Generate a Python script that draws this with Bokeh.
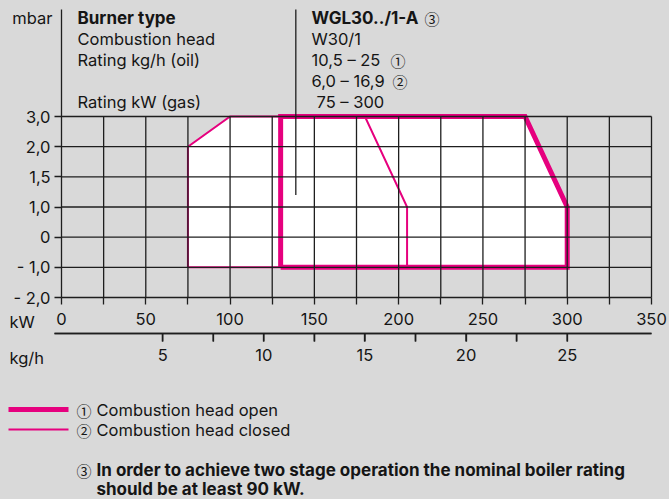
import numpy as np
from bokeh.plotting import figure
from bokeh.models import Range1d, LinearAxis, FixedTicker
from bokeh.embed import file_html
from bokeh.resources import INLINE
from bokeh.core.properties import value

# ---------------- data ----------------
y_tick_mbar = [-2.0, -1.0, 0.0, 1.0, 1.5, 2.0, 3.0]
y_tick_labels = ["- 2,0", "- 1,0", "0", "1,0", "1,5", "2,0", "3,0"]
kw_ticks = [0, 50, 100, 150, 200, 250, 300, 350]
kw_minor_ticks = [25, 75, 125, 175, 225, 275, 325]
kgh_ticks = [5, 10, 15, 20, 25]
kgh_labels = ["5", "10", "15", "20", "25"]
kgh_minor_ticks = [7.5, 12.5, 17.5, 22.5]
kw_per_kgh = 12.0

# combustion head open (thick)
open_kw = [130, 130, 275, 300, 300, 130]
open_mbar = [-1.0, 3.0, 3.0, 1.0, -1.0, -1.0]
# combustion head closed (thin)
closed_kw = [75, 75, 100, 180, 205, 205, 75]
closed_mbar = [-1.0, 2.0, 3.0, 3.0, 1.0, -1.0, -1.0]

divider_kw = 139
divider_mbar = 1.2

header_left = ["Burner type", "Combustion head", "Rating kg/h (oil)", "", "Rating kW (gas)"]
header_right = ["WGL30../1-A", "W30/1", "10,5 \u2013 25", "6,0 \u2013 16,9", "75 \u2013 300"]
header_marks = ["\u2462", "", "\u2460", "\u2461", ""]
legend_marks = ["\u2460", "\u2461"]
legend_labels = ["Combustion head open", "Combustion head closed"]
note_mark = "\u2462"
note_lines = ["In order to achieve two stage operation the nominal boiler rating",
              "should be at least 90 kW."]

# ---------------- style / layout ----------------
BG = "#d9d9d9"
PINK = "#e6007e"
INK = "#151515"
GRIDC = "#1e1e1e"
FONT = "Inter"
FS = "16.5px"
FSB = "17px"
MARK_FONT = "Noto Sans CJK JP"
MARK_FS = "15px"

W, H = 669, 499
FR_L, FR_R = 61, 651          # x pixels of 0 and 350 kW
Y0_PX = 297                   # y pixel of the bottom tick (-2,0)
PX_PER_IDX = (297 - 116) / 6.0
KAX_Y = 333


def to_idx(m):
    return np.interp(m, y_tick_mbar, np.arange(len(y_tick_mbar)))


def kx(px):
    return (px - FR_L) / ((FR_R - FR_L) / 350.0)


def iy(py):
    return (Y0_PX - py) / PX_PER_IDX


p = figure(width=W, height=H, output_backend="svg", toolbar_location=None,
           x_range=Range1d(kx(0), kx(W)), y_range=Range1d(iy(H), iy(0)),
           min_border=0, background_fill_color=BG, border_fill_color=BG,
           outline_line_color=None, x_axis_type=None, y_axis_type=None)

n_y = len(y_tick_mbar)
yax = LinearAxis(ticker=FixedTicker(ticks=list(range(n_y))),
                 major_label_overrides={i: s for i, s in enumerate(y_tick_labels)},
                 fixed_location=0, bounds=(0, iy(9)))
xax = LinearAxis(ticker=FixedTicker(ticks=kw_ticks, minor_ticks=kw_minor_ticks),
                 fixed_location=0, bounds=(0, 350))
kgh_pos = [k * kw_per_kgh for k in kgh_ticks]
kgh_minor_pos = [k * kw_per_kgh for k in kgh_minor_ticks]
kax = LinearAxis(ticker=FixedTicker(ticks=kgh_pos, minor_ticks=kgh_minor_pos),
                 major_label_overrides={pos: s for pos, s in zip(kgh_pos, kgh_labels)},
                 fixed_location=iy(KAX_Y), bounds=(kx(54), 350))

for ax in (yax, xax, kax):
    ax.axis_line_color = GRIDC
    ax.axis_line_width = 1.3
    ax.major_tick_line_color = GRIDC
    ax.minor_tick_line_color = GRIDC
    ax.major_tick_line_width = 1.3
    ax.minor_tick_line_width = 1.3
    ax.major_tick_in = 0
    ax.minor_tick_in = 0
    ax.major_label_text_font = FONT
    ax.major_label_text_font_size = FS
    ax.major_label_text_color = INK
yax.major_tick_out = 7
yax.major_label_standoff = 4
xax.major_tick_out = 7
xax.minor_tick_out = 7
xax.major_label_standoff = 8
kax.major_tick_out = 8
kax.minor_tick_out = 8
kax.major_label_standoff = 7

p.add_layout(yax, "left")
p.add_layout(xax, "below")
p.add_layout(kax, "below")

# white operating areas
p.patch(closed_kw, to_idx(closed_mbar), fill_color="white", line_color=None)
p.patch(open_kw, to_idx(open_mbar), fill_color="white", line_color=None)
# curves
p.line(closed_kw, to_idx(closed_mbar), line_color=PINK, line_width=2, line_join="miter")
p.line(open_kw, to_idx(open_mbar), line_color=PINK, line_width=5, line_join="miter")

# grid on top of the areas
vx = kw_minor_ticks + kw_ticks[1:]
p.segment(x0=vx, y0=[0] * len(vx), x1=vx, y1=[n_y - 1] * len(vx),
          line_color=GRIDC, line_width=1.3)
hy = list(range(1, n_y))
p.segment(x0=[0] * len(hy), y0=hy, x1=[350] * len(hy), y1=hy, line_color=GRIDC, line_width=1.3)
# divider between header columns
p.segment(x0=[divider_kw], y0=[to_idx(divider_mbar)], x1=[divider_kw], y1=[iy(9)],
          line_color=GRIDC, line_width=1.3)

# kg/h rule and ticks, also drawn as glyphs on the overlay level
p.segment(x0=[kx(54)], y0=[iy(KAX_Y)], x1=[350], y1=[iy(KAX_Y)], line_color=GRIDC,
          line_width=1.6, level="overlay")
kt = kgh_pos + kgh_minor_pos
p.segment(x0=kt, y0=[iy(KAX_Y)] * len(kt), x1=kt, y1=[iy(KAX_Y + 8)] * len(kt),
          line_color=GRIDC, line_width=1.6, level="overlay")


def txt(px, py, text, bold=False, align="left", font=FONT, size=None):
    if size is None:
        size = FSB if bold else FS
    p.text(x=[kx(px)], y=[iy(py)], text=[text], text_font=value(font),
           text_font_size=value(size), text_color=INK, text_baseline="middle",
           text_align=align, text_font_style="bold" if bold else "normal")


txt(52, 17, "mbar", align="right")
for i, t in enumerate(header_left):
    if t:
        txt(77, 17 + 21 * i, t, bold=(i == 0))
text_x = [311, 311, 311, 311, 316]
mark_x = [424, 0, 390, 392, 0]
for i, t in enumerate(header_right):
    txt(text_x[i], 17 + 21 * i, t, bold=(i == 0))
    if header_marks[i]:
        txt(mark_x[i], 18 + 21 * i, header_marks[i], font=MARK_FONT, size=MARK_FS)
txt(9, 321, "kW")
txt(9, 357, "kg/h")

# legend
p.segment(x0=[kx(8)] * 2, y0=[iy(409), iy(429)], x1=[kx(68)] * 2, y1=[iy(409), iy(429)],
          line_color=PINK, line_width=[5, 2])
for i in range(2):
    txt(76, 410 + 20 * i, legend_marks[i], font=MARK_FONT, size=MARK_FS)
    txt(96, 409 + 20 * i, legend_labels[i])

# footnote
txt(76, 470, note_mark, font=MARK_FONT, size=MARK_FS)
for i, t in enumerate(note_lines):
    txt(96, 469 + 19 * i, t, bold=True)

html = file_html(p, INLINE)
html = html.replace("<head>", "<head><style>html,body{margin:0;padding:0;background:%s;}</style>" % BG, 1)
open("out.html", "w").write(html)
